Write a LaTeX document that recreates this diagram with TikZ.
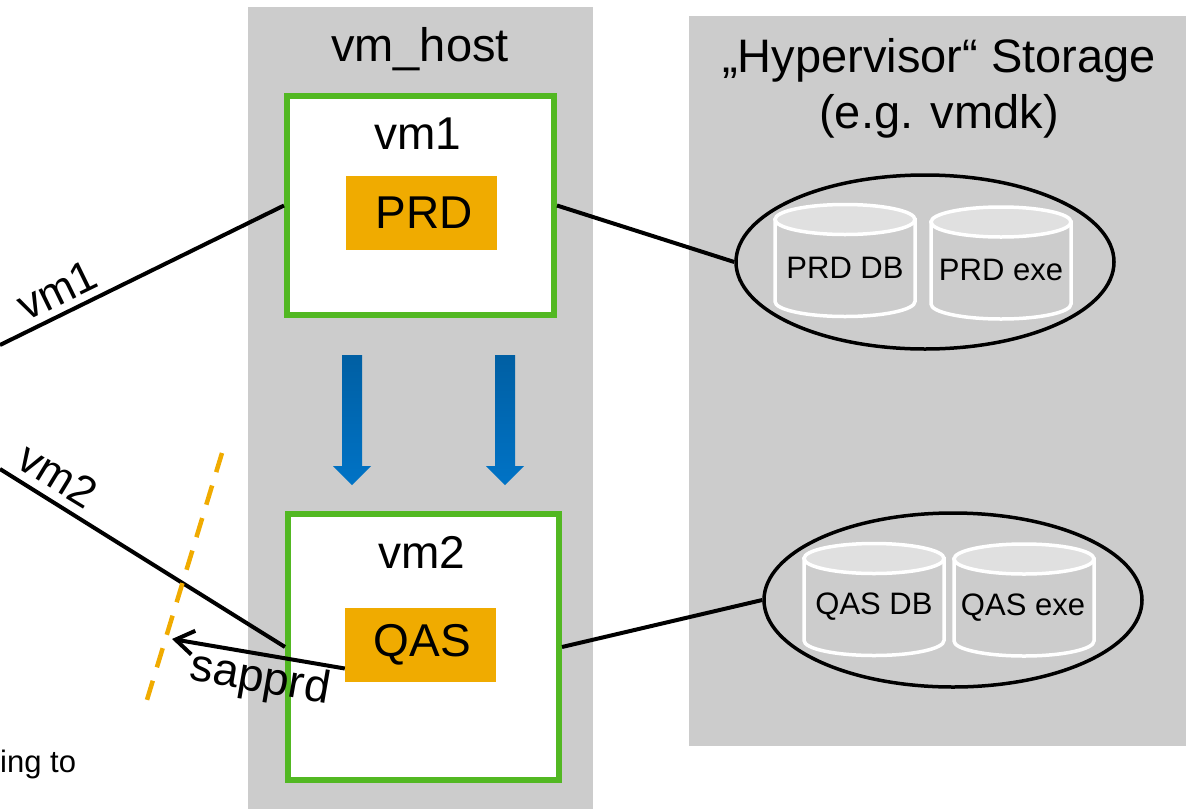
\documentclass[tikz,border=0pt]{standalone}
\usepackage{fontspec}
\setmainfont{Liberation Sans}
\usetikzlibrary{shapes.geometric,arrows.meta}
\definecolor{bggray}{HTML}{CCCCCC}
\definecolor{cyltop}{HTML}{E0E0E0}
\definecolor{vmgreen}{HTML}{52B822}
\definecolor{saporange}{HTML}{F0AB00}
\definecolor{bluetop}{HTML}{005FA3}
\definecolor{bluebot}{HTML}{0073C6}
\newcommand\mycyl[1]{%
  \begin{scope}[shift={#1}]
    \filldraw[cylline, fill=bggray] (-70,41) -- (-70,-41)
      arc[start angle=180, end angle=360, x radius=70, y radius=15] -- (70,41) -- cycle;
    \filldraw[cylline, fill=cyltop] (0,41) ellipse[x radius=70, y radius=15];
  \end{scope}}
\tikzset{
  hostbg/.style={fill=bggray, draw=none},
  vmbox/.style={draw=vmgreen, fill=white, line width=6pt, inner sep=0pt},
  sapbox/.style={fill=saporange, minimum width=151pt, minimum height=74pt, inner sep=0pt, font=\fontsize{46}{50}\selectfont},
  bigtxt/.style={font=\fontsize{47}{56}\selectfont, inner sep=0pt, anchor=base},
  lbltxt/.style={font=\fontsize{44}{48}\selectfont, inner sep=0pt},
  cyltxt/.style={font=\fontsize{31}{36}\selectfont, inner sep=0pt},
  cylline/.style={draw=white, line width=3.5pt},
  stor/.style={ellipse, draw=black, line width=3.5pt, inner sep=0pt},
  conn/.style={draw=black, line width=4pt},
  cut/.style={draw=saporange, line width=4.5pt, dash pattern=on 20pt off 14pt},
  bluearrow/.style={top color=bluetop, bottom color=bluebot, draw=none}
}
\begin{document}
\begin{tikzpicture}[x=1pt, y=1pt]
\useasboundingbox (0,0) rectangle (1186,-809);
% backgrounds
\fill[hostbg] (248,-7) rectangle (593,-809);
\fill[hostbg] (689,-16) rectangle (1186,-746);
% titles
\node[bigtxt] (hosttitle) at (420,-61) {vm\_host};
\node[font=\fontsize{47}{56}\selectfont, align=center, inner sep=0pt, anchor=center] (stortitle) at (939,-88) {„Hypervisor“ Storage\\(e.g. vmdk)};
% storage ellipses and cylinders
\node[stor, minimum width=378pt, minimum height=174pt] (st1) at (925,-262) {};
\node[stor, minimum width=378pt, minimum height=174pt] (st2) at (953,-600) {};
\mycyl{(845,-260.5)}
\mycyl{(1001,-263)}
\mycyl{(874,-599.5)}
\mycyl{(1024,-600)}
\node[cyltxt] (prddb) at (845,-268) {PRD DB};
\node[cyltxt] (prdexe) at (1001,-270) {PRD exe};
\node[cyltxt] (qasdb) at (874,-607) {QAS DB};
\node[cyltxt] (qasexe) at (1023,-608) {QAS exe};
% free ends
\coordinate (l1) at (0,-345);
\coordinate (l2) at (0,-469);
\coordinate (sapend) at (172,-639);
\coordinate (cuta) at (222,-453);
\coordinate (cutb) at (143,-713);
% vm boxes
\node[vmbox, minimum width=267pt, minimum height=219pt] (vm1box) at (420.5,-205.5) {};
\node[vmbox, minimum width=271pt, minimum height=266pt] (vm2box) at (423.5,-647) {};
\node[bigtxt, font=\fontsize{46}{50}\selectfont] (vm1txt) at (418,-149) {vm1};
\node[bigtxt, font=\fontsize{46}{50}\selectfont] (vm2txt) at (422,-568) {vm2};
\node[sapbox] (prd) at (421.5,-213) {\hspace{6pt}PRD};
\node[sapbox] (qas) at (420.5,-644.5) {\hspace{4pt}QAS};
% connectors
\draw[conn] (l1) -- (vm1box.west);
\draw[conn] (l2) -- (vm2box.west);
\draw[conn] (vm1box.east) -- (st1.west);
\draw[conn] (vm2box.east) -- (st2.west);
\draw[conn, -{Straight Barb[length=18pt, width=24pt]}] ([yshift=-24pt]qas.west) -- (sapend);
\draw[cut] (cuta) -- (cutb);
% connector labels
\node[lbltxt, rotate=26] (lblvm1) at (57,-290) {vm1};
\node[lbltxt, rotate=-31.4] (lblvm2) at (58,-475) {vm2};
\node[lbltxt, font=\fontsize{46}{50}\selectfont, rotate=-9.8] (lblsap) at (260,-680) {sapprd};
% blue arrows
\shade[bluearrow] (342,-355) -- (362,-355) -- (362,-466) -- (371,-466) -- (352,-485) -- (333,-466) -- (342,-466) -- cycle;
\shade[bluearrow] (495,-355) -- (515,-355) -- (515,-466) -- (524,-466) -- (505,-485) -- (486,-466) -- (495,-466) -- cycle;
% clipped footnote text
\node[font=\fontsize{31}{36}\selectfont, inner sep=0pt, anchor=base west] (foot) at (0,-772) {ing to};
\end{tikzpicture}
\end{document}
